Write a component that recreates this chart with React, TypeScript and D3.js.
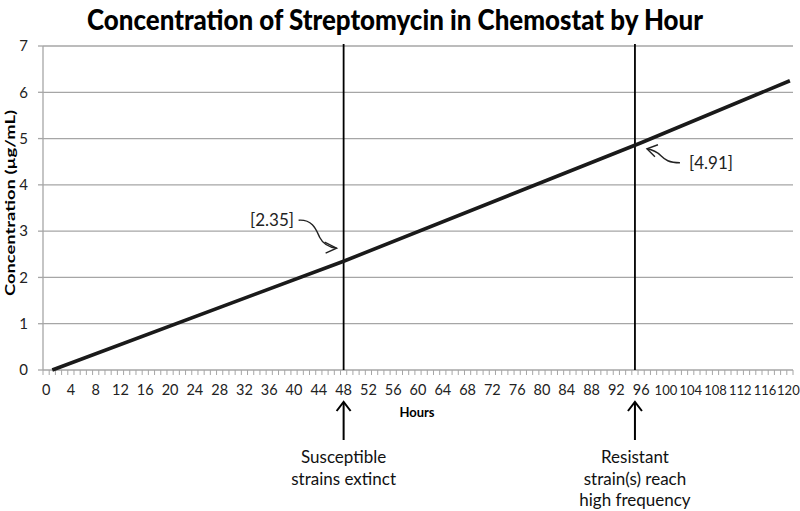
import React from "react";
import * as d3 from "d3";

const hours: number[] = [1, 48, 96, 120];
const concentration: number[] = [0, 2.35, 4.91, 6.25];
const yTicks: number[] = [0, 1, 2, 3, 4, 5, 6, 7];
const xCategories: number[] = d3.range(0, 121);
const xLabelStep = 4;
const markers: { hour: number; lines: string[] }[] = [
  { hour: 48, lines: ["Susceptible", "strains extinct"] },
  { hour: 95, lines: ["Resistant", "strain(s) reach", "high frequency"] },
];
const callouts: string[] = ["[2.35]", "[4.91]"];
const title = "Concentration of Streptomycin in Chemostat by Hour";
const yLabel = "Concentration (µg/mL)";
const xLabel = "Hours";

const W = 800;
const H = 511;
const left = 43;
const right = 793;
const top = 46;
const bottom = 370;
const font = "Lato, 'Open Sans', sans-serif";

export default function App() {
  const x = d3.scaleLinear().domain([-0.5, 120.5]).range([left, right]);
  const y = d3.scaleLinear().domain([0, 7]).range([bottom, top]);
  const pts: [number, number][] = hours.map((h, i) => [h, concentration[i]]);
  const line = d3
    .line<[number, number]>()
    .x((d) => x(d[0]))
    .y((d) => y(d[1]));

  const m1 = x(markers[0].hour);
  const m2 = x(markers[1].hour);
  const y1 = y(2.35);
  const y2 = y(4.91);

  return (
    <svg
      width={W}
      height={H}
      style={{ position: "absolute", left: 0, top: 0, background: "#fff" }}
    >
      <rect x={0} y={0} width={W} height={H} fill="#fff" />
      <text
        x={395}
        y={30}
        textAnchor="middle"
        fontFamily={font}
        fontWeight={900}
        fontSize={28}
        textLength={616}
        lengthAdjust="spacingAndGlyphs"
        fill="#000"
      >
        {title}
      </text>

      {/* grid lines */}
      {yTicks
        .filter((t) => t > 0)
        .map((t) => (
          <line key={t} x1={left} x2={right} y1={y(t)} y2={y(t)} stroke="#a6a6a6" strokeWidth={1.3} />
        ))}

      {/* y axis */}
      <line x1={left} x2={left} y1={top} y2={bottom} stroke="#a6a6a6" strokeWidth={1.3} />
      {yTicks.map((t) => (
        <g key={t}>
          <line x1={left - 5} x2={left} y1={y(t)} y2={y(t)} stroke="#a6a6a6" strokeWidth={1.3} />
          <text
            x={28}
            y={y(t)}
            dy="0.35em"
            textAnchor="end"
            fontFamily={font}
            fontSize={15}
            fill="#222"
          >
            {t}
          </text>
        </g>
      ))}
      <text
        transform={`translate(15,${203}) rotate(-90)`}
        textAnchor="middle"
        fontFamily={font}
        fontWeight={700}
        fontSize={14}
        textLength={186}
        lengthAdjust="spacingAndGlyphs"
        fill="#000"
      >
        {yLabel}
      </text>

      {/* x axis */}
      <line x1={left} x2={right} y1={bottom} y2={bottom} stroke="#a6a6a6" strokeWidth={1.3} />
      {d3.range(0, 122).map((i) => (
        <line
          key={i}
          x1={x(i - 0.5)}
          x2={x(i - 0.5)}
          y1={bottom}
          y2={bottom + 5}
          stroke="#a6a6a6"
          strokeWidth={1}
        />
      ))}
      {xCategories
        .filter((c) => c % xLabelStep === 0)
        .map((c) => (
          <text
            key={c}
            x={c === 120 ? x(c) - 1.5 : x(c)}
            y={395}
            textAnchor="middle"
            fontFamily={font}
            fontSize={c >= 100 ? 13 : 14.5}
            fill="#222"
          >
            {c}
          </text>
        ))}
      <text x={417} y={417} textAnchor="middle" fontFamily={font} fontWeight={700} fontSize={13} fill="#000">
        {xLabel}
      </text>

      {/* marker vertical lines */}
      {markers.map((m) => (
        <line key={m.hour} x1={x(m.hour)} x2={x(m.hour)} y1={44} y2={bottom} stroke="#000" strokeWidth={1.8} />
      ))}

      {/* data line */}
      <path d={line(pts) || ""} fill="none" stroke="#1a1a1a" strokeWidth={3.6} strokeLinecap="butt" />

      {/* callout 1 */}
      <text x={250} y={y1 - 41} dy="0.35em" fontFamily={font} fontSize={17} fill="#222">
        {callouts[0]}
      </text>
      <path
        d={`M${m1 - 45},${y1 - 41} C${m1 - 30},${y1 - 42} ${m1 - 27},${y1 - 30} ${m1 - 24},${y1 - 24} C${m1 - 21},${y1 - 18} ${m1 - 15},${y1 - 14} ${m1 - 7},${y1 - 13}`}
        fill="none"
        stroke="#222"
        strokeWidth={1.4}
      />
      <path
        d={`M${m1 - 19},${y1 - 19} L${m1 - 7},${y1 - 13} L${m1 - 18},${y1 - 8}`}
        fill="none"
        stroke="#222"
        strokeWidth={1.4}
      />

      {/* callout 2 */}
      <text x={689} y={y2 + 20} dy="0.35em" fontFamily={font} fontSize={17} fill="#222">
        {callouts[1]}
      </text>
      <path
        d={`M${m2 + 45},${y2 + 20} C${m2 + 34},${y2 + 20} ${m2 + 30},${y2 + 17} ${m2 + 26},${y2 + 13} C${m2 + 22},${y2 + 9} ${m2 + 18},${y2 + 7} ${m2 + 12},${y2 + 6}`}
        fill="none"
        stroke="#222"
        strokeWidth={1.4}
      />
      <path
        d={`M${m2 + 23},${y2 + 2} L${m2 + 12},${y2 + 6} L${m2 + 20},${y2 + 14}`}
        fill="none"
        stroke="#222"
        strokeWidth={1.4}
      />

      {/* bottom annotations */}
      {markers.map((m) => {
        const cx = x(m.hour);
        return (
          <g key={m.hour}>
            <line x1={cx} x2={cx} y1={440} y2={403} stroke="#000" strokeWidth={2} />
            <path d={`M${cx - 7},${411} L${cx},${402} L${cx + 7},${411}`} fill="none" stroke="#000" strokeWidth={2} />
            {m.lines.map((s, i) => (
              <text
                key={i}
                x={cx}
                y={463 + i * 21.5}
                textAnchor="middle"
                fontFamily={font}
                fontSize={17}
                fill="#111"
              >
                {s}
              </text>
            ))}
          </g>
        );
      })}
    </svg>
  );
}
